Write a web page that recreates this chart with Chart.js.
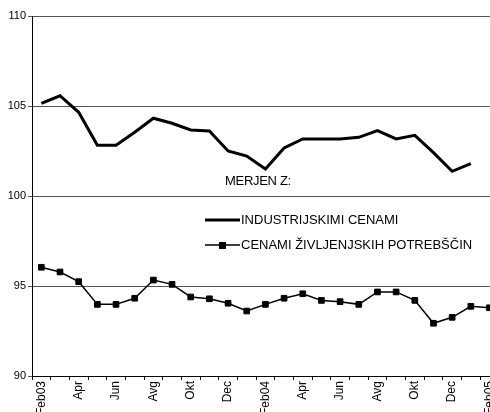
<!DOCTYPE html>
<html>
<head>
<meta charset="utf-8">
<script src="https://cdn.jsdelivr.net/npm/chart.js@4/dist/chart.umd.min.js"></script>
<style>
html, body { margin: 0; padding: 0; background: #fff; overflow: hidden; }
#wrap { width: 490px; height: 412px; overflow: hidden; }
#box { width: 505px; height: 412px; }
</style>
</head>
<body>
<div id="wrap"><div id="box"><canvas id="indexChart"></canvas></div></div>
<script>
var months = ['Feb03', 'Mar', 'Apr', 'Maj', 'Jun', 'Jul', 'Avg', 'Sep', 'Okt', 'Nov', 'Dec', 'Jan',
  'Feb04', 'Mar', 'Apr', 'Maj', 'Jun', 'Jul', 'Avg', 'Sep', 'Okt', 'Nov', 'Dec', 'Jan', 'Feb05'];
var industrial = [105.15, 105.57, 104.65, 102.82, 102.82, 103.54, 104.32, 104.04, 103.67, 103.61, 102.5, 102.22,
  101.5, 102.67, 103.17, 103.17, 103.17, 103.26, 103.63, 103.17, 103.37, 102.41, 101.37, 101.8, null];
var consumer = [96.04, 95.78, 95.24, 93.98, 93.98, 94.32, 95.33, 95.09, 94.39, 94.29, 94.04, 93.61,
  93.98, 94.32, 94.57, 94.2, 94.13, 93.98, 94.67, 94.67, 94.2, 92.93, 93.26, 93.87, 93.79];
var seriesNames = ['INDUSTRIJSKIMI CENAMI', 'CENAMI ŽIVLJENJSKIH POTREBŠČIN'];
var noteText = 'MERJEN Z:';

var fontFamily = '"Liberation Sans", Arial, sans-serif';

// legend + note drawn inside the plot area
var insideLegend = {
  id: 'insideLegend',
  afterDraw: function(chart) {
    var ctx = chart.ctx;
    ctx.save();
    ctx.font = '13px ' + fontFamily;
    ctx.fillStyle = '#000';
    ctx.textBaseline = 'middle';
    ctx.textAlign = 'left';
    ctx.letterSpacing = '-0.3px';
    ctx.fillText(noteText, 225, 181);
    ctx.letterSpacing = '0px';

    var rows = [220, 245];
    chart.data.datasets.forEach(function(ds, i) {
      var y = rows[i];
      ctx.strokeStyle = ds.borderColor;
      ctx.lineWidth = ds.borderWidth;
      ctx.beginPath();
      ctx.moveTo(205, y);
      ctx.lineTo(240, y);
      ctx.stroke();
      if (ds.pointRadius > 0) {
        ctx.fillStyle = ds.pointBackgroundColor;
        ctx.fillRect(219, y - 3, 7, 7);
      }
      ctx.fillStyle = '#000';
      ctx.fillText(ds.label, 241, y);
    });
    ctx.restore();
  }
};

new Chart(document.getElementById('indexChart').getContext('2d'), {
  type: 'line',
  data: {
    labels: months,
    datasets: [{
      label: seriesNames[0],
      data: industrial,
      borderColor: '#000',
      borderWidth: 3,
      pointRadius: 0,
      fill: false,
      tension: 0
    }, {
      label: seriesNames[1],
      data: consumer,
      borderColor: '#000',
      borderWidth: 1.5,
      pointStyle: 'rect',
      pointRadius: 4,
      pointBackgroundColor: '#000',
      pointBorderColor: '#000',
      pointBorderWidth: 1,
      fill: false,
      tension: 0
    }]
  },
  options: {
    responsive: true,
    maintainAspectRatio: false,
    animation: false,
    events: [],
    layout: { padding: { top: 16, right: 0, left: 0, bottom: 0 } },
    plugins: {
      legend: { display: false },
      tooltip: { enabled: false }
    },
    scales: {
      x: {
        offset: true,
        grid: {
          offset: true,
          drawOnChartArea: false,
          drawTicks: true,
          tickLength: 4,
          color: '#000'
        },
        border: { color: '#000', width: 1 },
        ticks: {
          autoSkip: false,
          minRotation: 90,
          maxRotation: 90,
          padding: 1,
          color: '#000',
          font: { family: fontFamily, size: 12 },
          callback: function(value, index) {
            return index % 2 === 0 ? this.getLabelForValue(value) : '';
          }
        },
        afterFit: function(scale) { scale.height = 36; }
      },
      y: {
        min: 90,
        max: 110,
        grid: {
          color: '#555',
          lineWidth: 1,
          tickLength: 4,
          tickColor: '#555'
        },
        border: { color: '#000', width: 1 },
        ticks: {
          stepSize: 5,
          padding: 2,
          color: '#000',
          font: { family: fontFamily, size: 11 }
        },
        afterFit: function(scale) { scale.width = 32; }
      }
    }
  },
  plugins: [insideLegend]
});
</script>
</body>
</html>
